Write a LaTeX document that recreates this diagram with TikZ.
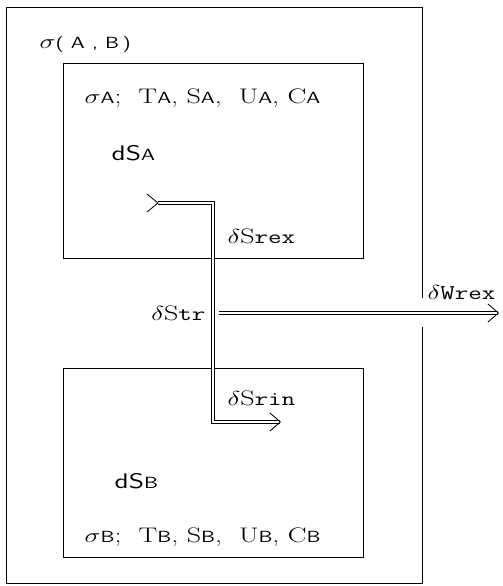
\documentclass[tikz,border=0pt]{standalone}
\usepackage{amssymb,amsmath}
\usepackage{tikz}
\usetikzlibrary{arrows.meta, positioning, calc}

\newcommand{\wide}[1]{\scalebox{1.33}[1]{#1}}
\newcommand{\sfsub}[1]{{\fontsize{11.5}{12}\selectfont\sffamily #1}}
\newcommand{\ttsub}[1]{{\fontsize{14}{14}\selectfont\ttfamily #1}}

\begin{document}
\begin{tikzpicture}[x=0.025cm, y=-0.025cm,
  frame/.style={draw, line width=0.6pt},
  lbl/.style={font=\fontsize{15}{18}\selectfont, inner sep=1pt},
  pipe/.style={double, double distance=1.8pt, line width=0.5pt},
  workpipe/.style={double, double distance=0.8pt, line width=1.1pt},
  barb/.style={-{Straight Barb[length=0.26cm, width=0.45cm, line width=0.6pt]}},
]
\useasboundingbox (0,0) rectangle (503,586);

%% Outer system, open where the work leaves
\draw[frame] (422,298) -- (422,7) -- (6,7) -- (6,583) -- (422,583) -- (422,327);

%% Subsystems A and B
\draw[frame] (63,63) rectangle (363,258);
\draw[frame] (63,368) rectangle (363,557);

%% Labels
\node[lbl, anchor=base west] (sigAB) at (38,48)
  {\wide{$\sigma$\sfsub{(\,\,A\,\,,\,\,B\,)}}};
\node[lbl, anchor=base west] (sigA) at (83,103)
  {\wide{$\sigma$\sfsub{A};\ \ T\sfsub{A}, S\sfsub{A},\ \ U\sfsub{A}, C\sfsub{A}}};
\node[lbl, anchor=base west] (dSA) at (110,160) {\wide{\sffamily dS\sfsub{A}}};
\node[lbl, anchor=base west] (dSB) at (113,488) {\wide{\sffamily dS\sfsub{B}}};
\node[lbl, anchor=base west] (sigB) at (83,542)
  {\wide{$\sigma$\sfsub{B};\ \ T\sfsub{B}, S\sfsub{B},\ \ U\sfsub{B}, C\sfsub{B}}};

%% Entropy pipe from A to B
\coordinate (src) at (158,203);
\coordinate (bendA) at (213,203);
\coordinate (bendB) at (213,422);
\coordinate (snk) at (281,422);
\draw[pipe, barb] (src) -- (bendA) -- (bendB) -- (snk);
\draw[line width=0.6pt] (src) ++(-11,-9) -- (src) -- ++(-11,9);

\node[lbl, anchor=base west] (rex) at (226,243) {\wide{$\delta$S\ttsub{rex}}};
\node[lbl, anchor=base east] (tr) at (207,320) {\wide{$\delta$S\ttsub{tr}}};
\node[lbl, anchor=base west] (rin) at (226,405) {\wide{$\delta$S\ttsub{rin}}};

%% Work leaving the system
\coordinate (wjunc) at (219,313);
\coordinate (wout) at (499,313);
\draw[workpipe, barb] (wjunc) -- (wout);
\node[lbl, anchor=base west] (wrex) at (426,299) {\wide{$\delta$\texttt{W}\ttsub{rex}}};

\end{tikzpicture}
\end{document}
